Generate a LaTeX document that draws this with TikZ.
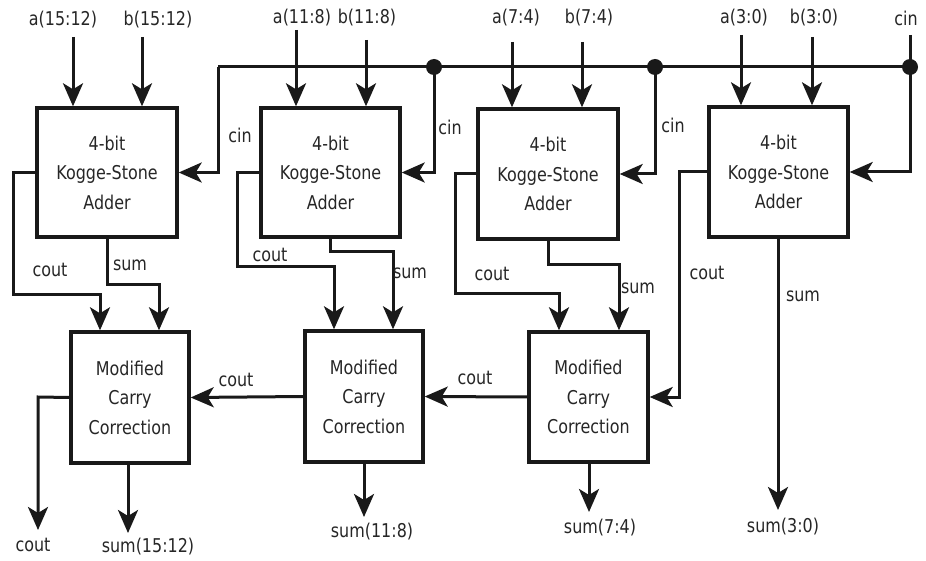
\documentclass[tikz,border=0pt]{standalone}
\usepackage{fontspec}
\setmainfont{DejaVu Sans}[FakeStretch=0.84]
\usetikzlibrary{arrows.meta}
\begin{document}
\begin{tikzpicture}[x=1pt,y=-1pt,
  wire/.style={line width=3pt,draw=black!90},
  arr/.style={wire,-{Stealth[length=23pt,width=20pt,inset=6pt]}},
  blk/.style={draw=black!90,line width=3.4pt,align=center,inner sep=0pt,
    font=\fontsize{19}{29.5}\selectfont,text=black!85},
  lbl/.style={inner sep=0pt,font=\fontsize{19}{20}\selectfont,text=black!85},
  dot/.style={circle,fill=black!90,inner sep=0pt,minimum size=16pt}]
\useasboundingbox (0,0) rectangle (926,561);

% adder blocks
\node[blk,minimum width=140,minimum height=129] (ks1) at (107,172.5) {4-bit\\Kogge-Stone\\Adder};
\node[blk,minimum width=139,minimum height=129] (ks2) at (330.5,172.5) {4-bit\\Kogge-Stone\\Adder};
\node[blk,minimum width=140,minimum height=130] (ks3) at (548,174) {4-bit\\Kogge-Stone\\Adder};
\node[blk,minimum width=139,minimum height=130] (ks4) at (778.5,172) {4-bit\\Kogge-Stone\\Adder};

% carry correction blocks
\node[blk,minimum width=118,minimum height=131] (mc1) at (130,397.5) {Modified\\Carry\\Correction};
\node[blk,minimum width=118,minimum height=131] (mc2) at (364,396.5) {Modified\\Carry\\Correction};
\node[blk,minimum width=119,minimum height=130] (mc3) at (588.5,397) {Modified\\Carry\\Correction};

% operand labels
\node[lbl] (la1) at (63,20) {a(15:12)};
\node[lbl] (lb1) at (158,20) {b(15:12)};
\node[lbl] (la2) at (302,18) {a(11:8)};
\node[lbl] (lb2) at (367,18) {b(11:8)};
\node[lbl] (la3) at (516,18) {a(7:4)};
\node[lbl] (lb3) at (589,18) {b(7:4)};
\node[lbl] (la4) at (744,18) {a(3:0)};
\node[lbl] (lb4) at (814,18) {b(3:0)};
\node[lbl] (lcin) at (906,18) {cin};

% operand inputs
\coordinate (ia1) at (73,37);
\coordinate (ib1) at (142,37);
\coordinate (ia2) at (296,30);
\coordinate (ib2) at (366,40);
\coordinate (ia3) at (512,42);
\coordinate (ib3) at (582,42);
\coordinate (ia4) at (741,35);
\coordinate (ib4) at (812,37);
\draw[arr] (ia1) -- (ia1 |- ks1.north);
\draw[arr] (ib1) -- (ib1 |- ks1.north);
\draw[arr] (ia2) -- (ia2 |- ks2.north);
\draw[arr] (ib2) -- (ib2 |- ks2.north);
\draw[arr] (ia3) -- (ia3 |- ks3.north);
\draw[arr] (ib3) -- (ib3 |- ks3.north);
\draw[arr] (ia4) -- (ia4 |- ks4.north);
\draw[arr] (ib4) -- (ib4 |- ks4.north);

% carry-in bus
\coordinate (cintop) at (910,35);
\coordinate (bus0) at (218,67);
\node[dot] (d2) at (434,67) {};
\node[dot] (d3) at (655,67) {};
\node[dot] (d4) at (910,67) {};
\draw[wire] (cintop) -- (d4.center);
\draw[wire] (bus0) -- (d4.center);
\draw[arr] (bus0) |- (ks1.east);
\draw[arr] (d2.center) |- (ks2.east);
\draw[arr] (d3.center) |- (ks3.east);
\draw[arr] (d4.center) |- (ks4.east);
\node[lbl] (lc1) at (240,135) {cin};
\node[lbl] (lc2) at (450,127) {cin};
\node[lbl] (lc3) at (673,125) {cin};

% adder outputs into the correction blocks
\draw[arr] (ks1.west) -- (13,172.5) -- (13,295) -- (100,295) -- (100,0 |- mc1.north);
\draw[arr] (107,0 |- ks1.south) -- (107,285) -- (159,285) -- (159,0 |- mc1.north);
\draw[arr] (ks2.west) -- (237,172.5) -- (237,267) -- (334,267) -- (334,0 |- mc2.north);
\draw[arr] (330,0 |- ks2.south) -- (330,252) -- (393,252) -- (393,0 |- mc2.north);
\draw[arr] (ks3.west) -- (455,174) -- (455,294) -- (559,294) -- (559,0 |- mc3.north);
\draw[arr] (548,0 |- ks3.south) -- (548,265) -- (619,265) -- (619,0 |- mc3.north);
\draw[arr] (ks4.west) -- (679,172) -- (679,397) -- (mc3.east);
\coordinate (s4) at (778,510);
\draw[arr] (778,0 |- ks4.south) -- (s4);
\node[lbl] (lo1) at (50,270) {cout};
\node[lbl] (ls1) at (130,265) {sum};
\node[lbl] (lo2) at (270,255) {cout};
\node[lbl] (ls2) at (410,273) {sum};
\node[lbl] (lo3) at (492,274) {cout};
\node[lbl] (ls3) at (638,288) {sum};
\node[lbl] (lo4) at (707,273) {cout};
\node[lbl] (ls4) at (803,296) {sum};

% carry chain between correction blocks
\draw[arr] (mc3.west) -- (mc2.east);
\draw[arr] (mc2.west) -- (mc1.east);
\node[lbl] (lk2) at (236,380) {cout};
\node[lbl] (lk3) at (475,378) {cout};

% final outputs
\coordinate (co) at (38,530);
\draw[arr] (mc1.west) -- (38,397) -- (co);
\coordinate (so1) at (128,533);
\coordinate (so2) at (364,517);
\coordinate (so3) at (589,512);
\draw[arr] (so1 |- mc1.south) -- (so1);
\draw[arr] (so2 |- mc2.south) -- (so2);
\draw[arr] (so3 |- mc3.south) -- (so3);
\node[lbl] (lco) at (33,545) {cout};
\node[lbl] (lso1) at (148,547) {sum(15:12)};
\node[lbl] (lso2) at (372,532) {sum(11:8)};
\node[lbl] (lso3) at (600,528) {sum(7:4)};
\node[lbl] (lso4) at (783,527) {sum(3:0)};
\end{tikzpicture}
\end{document}
